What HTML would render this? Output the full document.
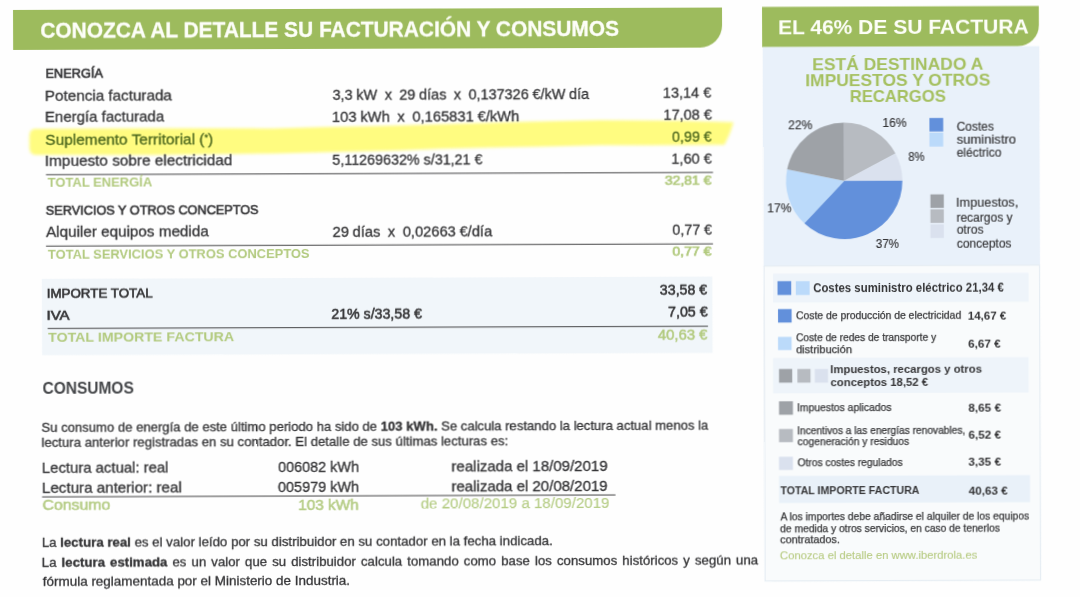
<!DOCTYPE html>
<html lang="es"><head><meta charset="utf-8"><title>Factura</title>
<style>
html,body{margin:0;padding:0;overflow:hidden;}
html{width:1080px;height:597px;}
body{width:1080px;height:597px;overflow:hidden;background:#fefefe;font-family:"Liberation Sans",sans-serif;position:relative;}
#clip{position:absolute;left:0;top:0;width:1080px;height:597px;overflow:hidden;}
#pg{position:absolute;left:0;top:0;will-change:transform;opacity:0.999;width:1080px;height:597px;transform:rotate(-0.1948deg);transform-origin:0 0;}
.r{position:absolute;}
.t{position:absolute;left:0;top:0;white-space:nowrap;transform-origin:0 0;}
.t b{font-weight:700;}
.svg{position:absolute;left:0;top:0;overflow:visible;}
</style></head><body>
<div id="clip"><div id="pg">
<svg class="svg" width="1080" height="597" viewBox="0 0 1080 597">
<defs><filter id="b" x="-2%" y="-20%" width="104%" height="140%"><feGaussianBlur stdDeviation="1.5"/></filter></defs>
<path d="M12.97,9.99 h709.00 v17.90 a22,22 0 0 1 -22,22 h-687.00 Z" fill="#9dbb5c" />
<rect x="40.85" y="278.94" width="670.50" height="76.40" fill="#f1f6fa" />
<rect x="45.41" y="174.38" width="667.00" height="0.95" fill="#3c3c3e" />
<rect x="45.16" y="245.78" width="667.00" height="0.95" fill="#3c3c3e" />
<rect x="46.58" y="328.19" width="660.30" height="0.95" fill="#3c3c3e" />
<rect x="40.41" y="496.57" width="573.40" height="0.95" fill="#3c3c3e" />
<path d="M761.98,9.59 h276.80 v19.10 a21,21 0 0 1 -21,21 h-255.80 Z" fill="#9dbb5c" />
<rect x="762.64" y="49.69" width="276.50" height="218.90" fill="#e9f1fa" />
<rect x="763.10" y="268.60" width="275.50" height="315.00" fill="#f9fbfc" stroke="#e6edf3" stroke-width="1.2"/>
<rect x="772.07" y="276.23" width="255.50" height="29.00" fill="#eef4fa" />
<rect x="771.78" y="360.63" width="255.50" height="35.40" fill="#eef4fa" />
<rect x="777.38" y="478.65" width="251.00" height="27.00" fill="#e9f1f9" />
<rect x="929.00" y="121.16" width="13.80" height="13.50" fill="#6190db" />
<rect x="928.95" y="135.76" width="13.80" height="14.00" fill="#bbdafa" />
<rect x="929.74" y="197.56" width="13.40" height="13.50" fill="#9ea2a7" />
<rect x="929.69" y="212.46" width="13.40" height="13.60" fill="#b7bbc1" />
<rect x="929.64" y="227.46" width="13.40" height="13.70" fill="#dae1ee" />
<rect x="776.54" y="283.84" width="13.70" height="13.80" fill="#6190db" />
<rect x="794.84" y="283.91" width="13.80" height="13.80" fill="#bbdafa" />
<rect x="776.95" y="311.75" width="13.60" height="13.50" fill="#6190db" />
<rect x="776.85" y="339.55" width="13.60" height="13.20" fill="#bbdafa" />
<rect x="777.75" y="371.65" width="13.20" height="13.70" fill="#9ea2a7" />
<rect x="796.15" y="371.71" width="13.10" height="13.70" fill="#b7bbc1" />
<rect x="813.55" y="371.77" width="13.20" height="13.70" fill="#dae1ee" />
<rect x="777.64" y="403.95" width="13.90" height="13.50" fill="#9ea2a7" />
<rect x="777.54" y="431.65" width="13.90" height="13.20" fill="#b7bbc1" />
<rect x="777.45" y="459.45" width="13.90" height="13.20" fill="#dae1ee" />
<polygon points="28.9,136.1 29.8,131.6 33.1,129.1 149.6,128.8 269.6,129.4 319.6,128.3 379.6,127.3 439.6,125.7 512.6,123.7 599.6,122.2 679.6,122.9 733.1,124.7 729.5,135.5 724.0,147.3 649.5,147.5 599.5,147.2 539.5,148.4 439.5,150.3 399.5,151.7 269.5,154.4 149.5,155.5 33.5,155.1 29.9,152.6 28.9,148.1" fill="#fffc7f" filter="url(#b)"/>
<path d="M843.58,183.77 L843.58,125.57 A58.2,58.2 0 0 1 894.97,156.45 Z" fill="#b7bbc1"/><path d="M843.58,183.77 L894.97,156.45 A58.2,58.2 0 0 1 901.78,183.77 Z" fill="#dae1ee"/><path d="M843.58,183.77 L901.78,183.77 A58.2,58.2 0 0 1 803.52,225.99 Z" fill="#6190db"/><path d="M843.58,183.77 L803.52,225.99 A58.2,58.2 0 0 1 786.59,171.97 Z" fill="#bbdafa"/><path d="M843.58,183.77 L786.59,171.97 A58.2,58.2 0 0 1 843.58,125.57 Z" fill="#9ea2a7"/>
</svg>
<div class="t" id="t0" style="font-size:21.8px;line-height:28px;color:#fdfef8;font-weight:700;-webkit-text-stroke:0.3px #fdfef8;transform:translate(40.22px,16.64px) scaleX(0.9590);">CONOZCA AL DETALLE SU FACTURACIÓN Y CONSUMOS</div>
<div class="t" id="t1" style="font-size:13.0px;line-height:17px;color:#343436;-webkit-text-stroke:0.65px #343436;transform:translate(45.36px,65.46px) scaleX(0.9817);">ENERGÍA</div>
<div class="t" id="t2" style="font-size:14.5px;line-height:19px;color:#343436;-webkit-text-stroke:0.3px #343436;transform:translate(44.61px,86.66px) scaleX(1.0500);">Potencia facturada</div>
<div class="t" id="t3" style="font-size:14.5px;line-height:19px;color:#343436;-webkit-text-stroke:0.3px #343436;transform:translate(44.55px,108.06px) scaleX(1.0345);">Energía facturada</div>
<div class="t" id="t4" style="font-size:14.5px;line-height:19px;color:#4a661c;-webkit-text-stroke:0.3px #4a661c;transform:translate(44.86px,128.65px) scaleX(1.0634);">Suplemento Territorial (<span style="font-size:.6em;vertical-align:.45em">*</span>)</div>
<div class="t" id="t5" style="font-size:14.5px;line-height:19px;color:#343436;-webkit-text-stroke:0.3px #343436;transform:translate(44.33px,151.86px) scaleX(1.0573);">Impuesto sobre electricidad</div>
<div class="t" id="t6" style="font-size:13.1px;line-height:17px;color:#b2ca7e;font-weight:700;transform:translate(47.06px,174.26px) scaleX(0.9905);">TOTAL ENERGÍA</div>
<div class="t" id="t7" style="font-size:13.6px;line-height:18px;color:#343436;-webkit-text-stroke:0.62px #343436;transform:translate(45.11px,202.46px) scaleX(0.9335);">SERVICIOS Y OTROS CONCEPTOS</div>
<div class="t" id="t8" style="font-size:14.5px;line-height:19px;color:#343436;-webkit-text-stroke:0.3px #343436;transform:translate(45.19px,223.46px) scaleX(1.0516);">Alquiler equipos medida</div>
<div class="t" id="t9" style="font-size:13.1px;line-height:17px;color:#b2ca7e;font-weight:700;transform:translate(47.12px,245.76px) scaleX(0.9858);">TOTAL SERVICIOS Y OTROS CONCEPTOS</div>
<div class="t" id="t10" style="font-size:14.5px;line-height:19px;color:#343436;-webkit-text-stroke:0.3px #343436;word-spacing:-0.3px;transform:translate(332.31px,86.53px) scaleX(0.9960);">3,3 kW&nbsp; x&nbsp; 29 días&nbsp; x&nbsp; 0,137326 €/kW día</div>
<div class="t" id="t11" style="font-size:14.5px;line-height:19px;color:#343436;-webkit-text-stroke:0.3px #343436;word-spacing:-0.3px;transform:translate(331.57px,108.73px) scaleX(1.0164);">103 kWh&nbsp; x&nbsp; 0,165831 €/kWh</div>
<div class="t" id="t12" style="font-size:14.5px;line-height:19px;color:#343436;-webkit-text-stroke:0.3px #343436;transform:translate(331.80px,151.93px) scaleX(0.9869);">5,11269632% s/31,21 €</div>
<div class="t" id="t13" style="font-size:14.5px;line-height:19px;color:#343436;-webkit-text-stroke:0.3px #343436;word-spacing:-0.3px;transform:translate(331.80px,223.53px) scaleX(1.0107);">29 días&nbsp; x&nbsp; 0,02663 €/día</div>
<div class="t" id="t14" style="font-size:14.5px;line-height:19px;color:#343436;-webkit-text-stroke:0.3px #343436;transform:translate(662.57px,86.32px);">13,14 €</div>
<div class="t" id="t15" style="font-size:14.5px;line-height:19px;color:#343436;-webkit-text-stroke:0.3px #343436;transform:translate(663.09px,108.22px);">17,08 €</div>
<div class="t" id="t16" style="font-size:14.5px;line-height:19px;color:#4a661c;-webkit-text-stroke:0.3px #4a661c;transform:translate(671.50px,129.92px) scaleX(0.9880);">0,99 €</div>
<div class="t" id="t17" style="font-size:14.5px;line-height:19px;color:#343436;-webkit-text-stroke:0.3px #343436;transform:translate(670.74px,151.52px) scaleX(1.0051);">1,60 €</div>
<div class="t" id="t18" style="font-size:12.8px;line-height:17px;color:#b2ca7e;-webkit-text-stroke:0.7px #b2ca7e;transform:translate(664.14px,174.02px) scaleX(1.0925);">32,81 €</div>
<div class="t" id="t19" style="font-size:14.5px;line-height:19px;color:#343436;-webkit-text-stroke:0.3px #343436;transform:translate(671.48px,223.22px) scaleX(0.9880);">0,77 €</div>
<div class="t" id="t20" style="font-size:12.8px;line-height:17px;color:#b2ca7e;-webkit-text-stroke:0.7px #b2ca7e;transform:translate(671.43px,245.12px) scaleX(1.1012);">0,77 €</div>
<div class="t" id="t21" style="font-size:13.6px;line-height:18px;color:#343436;-webkit-text-stroke:0.65px #343436;transform:translate(45.70px,284.86px) scaleX(0.9829);">IMPORTE TOTAL</div>
<div class="t" id="t22" style="font-size:13.6px;line-height:18px;color:#343436;-webkit-text-stroke:0.65px #343436;transform:translate(45.51px,307.46px) scaleX(1.1000);">IVA</div>
<div class="t" id="t23" style="font-size:13.1px;line-height:17px;color:#b2ca7e;font-weight:700;transform:translate(47.04px,328.86px) scaleX(1.0836);">TOTAL IMPORTE FACTURA</div>
<div class="t" id="t24" style="font-size:14.3px;line-height:19px;color:#343436;-webkit-text-stroke:0.55px #343436;transform:translate(330.32px,305.93px) scaleX(0.9901);">21% s/33,58 €</div>
<div class="t" id="t25" style="font-size:14.3px;line-height:19px;color:#343436;-webkit-text-stroke:0.55px #343436;transform:translate(658.87px,283.30px) scaleX(0.9908);">33,58 €</div>
<div class="t" id="t26" style="font-size:14.3px;line-height:19px;color:#343436;-webkit-text-stroke:0.55px #343436;transform:translate(667.11px,305.41px) scaleX(0.9912);">7,05 €</div>
<div class="t" id="t27" style="font-size:14.0px;line-height:18px;color:#b2ca7e;-webkit-text-stroke:0.5px #b2ca7e;transform:translate(656.75px,327.51px) scaleX(1.0611);">40,63 €</div>
<div class="t" id="t28" style="font-size:17px;line-height:22px;color:#444649;font-weight:700;transform:translate(41.19px,378.45px) scaleX(0.9117);">CONSUMOS</div>
<div class="t" id="t29" style="font-size:12.9px;line-height:17px;color:#343436;-webkit-text-stroke:0.3px #343436;transform:translate(40.00px,418.84px) scaleX(1.0159);">Su consumo de energía de este último periodo ha sido de <b>103 kWh.</b> Se calcula restando la lectura actual menos la</div>
<div class="t" id="t30" style="font-size:12.9px;line-height:17px;color:#343436;-webkit-text-stroke:0.3px #343436;transform:translate(40.00px,433.54px) scaleX(1.0210);">lectura anterior registradas en su contador. El detalle de sus últimas lecturas es:</div>
<div class="t" id="t31" style="font-size:14.2px;line-height:18px;color:#343436;-webkit-text-stroke:0.3px #343436;transform:translate(40.34px,459.05px) scaleX(1.0480);">Lectura actual: real</div>
<div class="t" id="t32" style="font-size:14.2px;line-height:18px;color:#343436;-webkit-text-stroke:0.3px #343436;transform:translate(40.26px,479.15px) scaleX(1.0682);">Lectura anterior: real</div>
<div class="t" id="t33" style="font-size:14.0px;line-height:18px;color:#b6cd86;-webkit-text-stroke:0.55px #b6cd86;transform:translate(40.78px,496.45px) scaleX(1.1321);">Consumo</div>
<div class="t" id="t34" style="font-size:14.2px;line-height:18px;color:#343436;-webkit-text-stroke:0.3px #343436;transform:translate(276.38px,459.45px) scaleX(1.0179);">006082 kWh</div>
<div class="t" id="t35" style="font-size:14.2px;line-height:18px;color:#343436;-webkit-text-stroke:0.3px #343436;transform:translate(276.31px,479.15px) scaleX(1.0179);">005979 kWh</div>
<div class="t" id="t36" style="font-size:14.0px;line-height:18px;color:#b6cd86;-webkit-text-stroke:0.55px #b6cd86;transform:translate(296.44px,496.92px) scaleX(1.0976);">103 kWh</div>
<div class="t" id="t37" style="font-size:14.2px;line-height:18px;color:#343436;-webkit-text-stroke:0.3px #343436;transform:translate(449.83px,459.06px) scaleX(1.0589);">realizada el 18/09/2019</div>
<div class="t" id="t38" style="font-size:14.2px;line-height:18px;color:#343436;-webkit-text-stroke:0.3px #343436;transform:translate(449.76px,479.06px) scaleX(1.0589);">realizada el 20/08/2019</div>
<div class="t" id="t39" style="font-size:14.0px;line-height:18px;color:#b6cd86;-webkit-text-stroke:0.15px #b6cd86;transform:translate(418.98px,496.37px) scaleX(1.0774);">de 20/08/2019 a 18/09/2019</div>
<div class="t" id="t40" style="font-size:12.6px;line-height:16px;color:#343436;-webkit-text-stroke:0.3px #343436;transform:translate(39.89px,535.05px) scaleX(1.0517);">La <b>lectura real</b> es el valor leído por su distribuidor en su contador en la fecha indicada.</div>
<div class="t" id="t41" style="font-size:12.6px;line-height:16px;color:#343436;-webkit-text-stroke:0.3px #343436;word-spacing:1.3px;transform:translate(39.82px,555.45px) scaleX(1.0512);">La <b>lectura estimada</b> es un valor que su distribuidor calcula tomando como base los consumos históricos y según una</div>
<div class="t" id="t42" style="font-size:12.6px;line-height:16px;color:#343436;-webkit-text-stroke:0.3px #343436;transform:translate(40.81px,574.45px) scaleX(1.0680);">fórmula reglamentada por el Ministerio de Industria.</div>
<div class="t" id="t43" style="font-size:21px;line-height:27px;color:#fdfef8;font-weight:700;transform:translate(777.88px,16.35px) scaleX(1.0009);">EL 46% DE SU FACTURA</div>
<div class="t" id="t44" style="font-size:16.6px;line-height:22px;color:#a5c05f;font-weight:700;transform:translate(812.01px,56.85px) scaleX(1.0522);">ESTÁ DESTINADO A</div>
<div class="t" id="t45" style="font-size:16.6px;line-height:22px;color:#a5c05f;font-weight:700;transform:translate(805.01px,72.65px) scaleX(1.0507);">IMPUESTOS Y OTROS</div>
<div class="t" id="t46" style="font-size:16.6px;line-height:22px;color:#a5c05f;font-weight:700;transform:translate(849.45px,88.85px) scaleX(1.0026);">RECARGOS</div>
<div class="t" id="t47" style="font-size:12px;line-height:16px;color:#343436;-webkit-text-stroke:0.15px #343436;transform:translate(787.81px,119.88px) scaleX(1.0049);">22%</div>
<div class="t" id="t48" style="font-size:12px;line-height:16px;color:#343436;-webkit-text-stroke:0.15px #343436;transform:translate(882.12px,118.20px) scaleX(1.0004);">16%</div>
<div class="t" id="t49" style="font-size:12px;line-height:16px;color:#343436;-webkit-text-stroke:0.15px #343436;transform:translate(907.79px,151.79px) scaleX(0.9332);">8%</div>
<div class="t" id="t50" style="font-size:12px;line-height:16px;color:#343436;-webkit-text-stroke:0.15px #343436;transform:translate(766.53px,203.21px) scaleX(1.0048);">17%</div>
<div class="t" id="t51" style="font-size:12px;line-height:16px;color:#343436;-webkit-text-stroke:0.15px #343436;transform:translate(874.97px,239.48px) scaleX(0.9642);">37%</div>
<div class="t" id="t52" style="font-size:12px;line-height:16px;color:#343436;-webkit-text-stroke:0.15px #343436;transform:translate(956.20px,122.05px);">Costes</div>
<div class="t" id="t53" style="font-size:12px;line-height:16px;color:#343436;-webkit-text-stroke:0.15px #343436;transform:translate(956.20px,135.35px) scaleX(1.0863);">suministro</div>
<div class="t" id="t54" style="font-size:12px;line-height:16px;color:#343436;-webkit-text-stroke:0.15px #343436;transform:translate(956.20px,148.15px);">eléctrico</div>
<div class="t" id="t55" style="font-size:12px;line-height:16px;color:#343436;-webkit-text-stroke:0.15px #343436;transform:translate(955.34px,198.45px) scaleX(1.0587);">Impuestos,</div>
<div class="t" id="t56" style="font-size:12px;line-height:16px;color:#343436;-webkit-text-stroke:0.15px #343436;transform:translate(955.70px,212.75px);">recargos y</div>
<div class="t" id="t57" style="font-size:12px;line-height:16px;color:#343436;-webkit-text-stroke:0.15px #343436;transform:translate(955.95px,225.45px);">otros</div>
<div class="t" id="t58" style="font-size:12px;line-height:16px;color:#343436;-webkit-text-stroke:0.15px #343436;transform:translate(955.89px,239.45px);">conceptos</div>
<div class="t" id="t59" style="font-size:12.4px;line-height:16px;color:#343436;font-weight:700;transform:translate(812.17px,282.97px) scaleX(0.9200);">Costes suministro eléctrico 21,34 €</div>
<div class="t" id="t60" style="font-size:10.6px;line-height:14px;color:#343436;-webkit-text-stroke:0.25px #343436;transform:translate(795.00px,311.11px) scaleX(0.9807);">Coste de producción de electricidad</div>
<div class="t" id="t61" style="font-size:11.6px;line-height:15px;color:#343436;font-weight:700;transform:translate(966.73px,310.69px) scaleX(0.9943);">14,67 €</div>
<div class="t" id="t62" style="font-size:10.6px;line-height:14px;color:#343436;-webkit-text-stroke:0.25px #343436;transform:translate(794.93px,333.01px) scaleX(0.9630);">Coste de redes de transporte y</div>
<div class="t" id="t63" style="font-size:10.6px;line-height:14px;color:#343436;-webkit-text-stroke:0.25px #343436;transform:translate(794.95px,344.91px) scaleX(1.0425);">distribución</div>
<div class="t" id="t64" style="font-size:11.6px;line-height:15px;color:#343436;font-weight:700;transform:translate(966.95px,338.89px) scaleX(1.0119);">6,67 €</div>
<div class="t" id="t65" style="font-size:11.8px;line-height:15px;color:#343436;font-weight:700;transform:translate(829.00px,365.33px) scaleX(0.9603);">Impuestos, recargos y otros</div>
<div class="t" id="t66" style="font-size:11.8px;line-height:15px;color:#343436;font-weight:700;transform:translate(829.26px,378.03px) scaleX(0.9604);">conceptos 18,52 €</div>
<div class="t" id="t67" style="font-size:10.6px;line-height:14px;color:#343436;-webkit-text-stroke:0.25px #343436;transform:translate(795.70px,403.21px) scaleX(0.9778);">Impuestos aplicados</div>
<div class="t" id="t68" style="font-size:11.6px;line-height:15px;color:#343436;font-weight:700;transform:translate(967.08px,402.79px) scaleX(1.0104);">8,65 €</div>
<div class="t" id="t69" style="font-size:10.6px;line-height:14px;color:#343436;-webkit-text-stroke:0.25px #343436;transform:translate(795.64px,425.61px) scaleX(0.9620);">Incentivos a las energías renovables,</div>
<div class="t" id="t70" style="font-size:10.6px;line-height:14px;color:#343436;-webkit-text-stroke:0.25px #343436;transform:translate(796.12px,437.21px) scaleX(0.9718);">cogeneración y residuos</div>
<div class="t" id="t71" style="font-size:11.6px;line-height:15px;color:#343436;font-weight:700;transform:translate(966.94px,430.19px) scaleX(1.0119);">6,52 €</div>
<div class="t" id="t72" style="font-size:10.6px;line-height:14px;color:#343436;-webkit-text-stroke:0.25px #343436;transform:translate(796.03px,457.91px) scaleX(0.9638);">Otros costes regulados</div>
<div class="t" id="t73" style="font-size:11.6px;line-height:15px;color:#343436;font-weight:700;transform:translate(966.69px,457.49px) scaleX(1.0168);">3,35 €</div>
<div class="t" id="t74" style="font-size:11.4px;line-height:15px;color:#343436;font-weight:700;transform:translate(778.72px,486.25px) scaleX(0.9310);">TOTAL IMPORTE FACTURA</div>
<div class="t" id="t75" style="font-size:11.6px;line-height:15px;color:#343436;font-weight:700;transform:translate(967.09px,486.19px) scaleX(1.0058);">40,63 €</div>
<div class="t" id="t76" style="font-size:10.6px;line-height:14px;color:#343436;-webkit-text-stroke:0.25px #343436;transform:translate(778.63px,512.05px) scaleX(0.9707);">A los importes debe añadirse el alquiler de los equipos</div>
<div class="t" id="t77" style="font-size:10.6px;line-height:14px;color:#343436;-webkit-text-stroke:0.25px #343436;transform:translate(778.36px,523.55px) scaleX(0.9693);">de medida y otros servicios, en caso de tenerlos</div>
<div class="t" id="t78" style="font-size:10.6px;line-height:14px;color:#343436;-webkit-text-stroke:0.25px #343436;transform:translate(778.27px,535.15px) scaleX(1.0240);">contratados.</div>
<div class="t" id="t79" style="font-size:10.6px;line-height:14px;color:#b7cb82;-webkit-text-stroke:0.1px #b7cb82;transform:translate(778.04px,551.45px) scaleX(1.0640);">Conozca el detalle en www.iberdrola.es</div>
</div></div>
</body></html>
